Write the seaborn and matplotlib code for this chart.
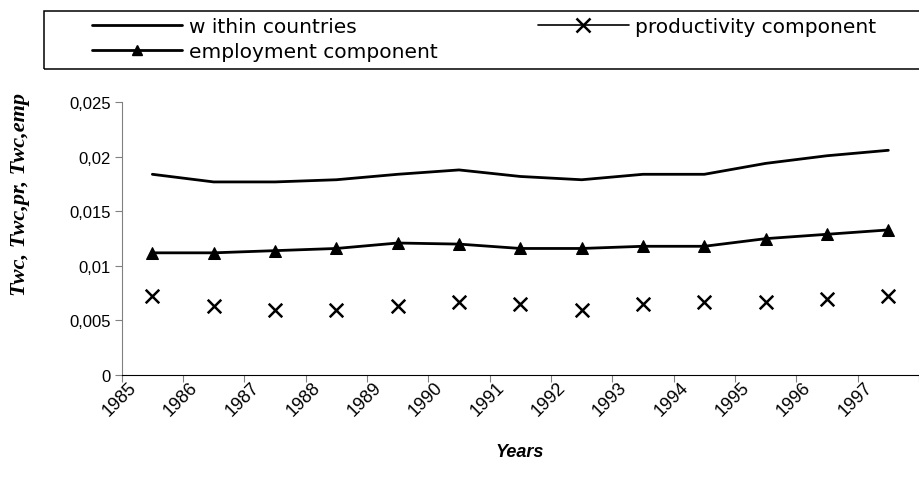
# chart of within-country component and its productivity / employment parts
import numpy as np
import pandas as pd
import matplotlib
matplotlib.use("Agg")
import matplotlib.pyplot as plt
import matplotlib.transforms as mtransforms
from matplotlib.lines import Line2D
from matplotlib.patches import Rectangle
import seaborn as sns

years = [1985, 1986, 1987, 1988, 1989, 1990, 1991, 1992, 1993, 1994, 1995, 1996, 1997]
within = [0.0184, 0.0177, 0.0177, 0.0179, 0.0184, 0.0188, 0.0182, 0.0179, 0.0184, 0.0184, 0.0194, 0.0201, 0.0206]
employment = [0.0112, 0.0112, 0.0114, 0.0116, 0.0121, 0.0120, 0.0116, 0.0116, 0.0118, 0.0118, 0.0125, 0.0129, 0.0133]
productivity = [0.0072, 0.0063, 0.0060, 0.0060, 0.0063, 0.0067, 0.0065, 0.0060, 0.0065, 0.0067, 0.0067, 0.0070, 0.0072]
y_ticks = [0, 0.005, 0.01, 0.015, 0.02, 0.025]
y_tick_labels = ["0", "0,005", "0,01", "0,015", "0,02", "0,025"]

sns.set_style("ticks")
plt.rcParams['font.family'] = ['Liberation Sans', 'DejaVu Sans']
plt.rcParams['text.color'] = 'black'
plt.rcParams['xtick.labelcolor'] = 'black'
plt.rcParams['ytick.labelcolor'] = 'black'

W, H = 920, 481
fig = plt.figure(figsize=(W / 100, H / 100), dpi=100)
ax = fig.add_axes([121.7 / W, 1 - 376 / H, (919 - 121.7) / W, (376 - 103.3) / H])

# category axis: points sit between the tick marks
df = pd.DataFrame({"pos": np.arange(len(years)) + 0.5,
                   "within": within, "employment": employment, "productivity": productivity})

sns.lineplot(data=df, x="pos", y="within", color="black", lw=2, ax=ax)
sns.lineplot(data=df, x="pos", y="employment", color="black", lw=2,
             marker="^", markersize=8, markeredgecolor="black", ax=ax)
sns.scatterplot(data=df, x="pos", y="productivity", marker="x", s=95,
                color="black", linewidth=1.8, ax=ax)

ax.set_xlim(0, len(years))
ax.set_ylim(0, 0.025)
ax.set_xlabel("")
ax.set_ylabel("")

for s in ["top", "right"]:
    ax.spines[s].set_visible(False)
ax.spines["left"].set_color("#808080")
ax.spines["bottom"].set_color("black")
ax.tick_params(axis="y", direction="out", length=5, color="#808080", pad=3)
ax.tick_params(axis="x", direction="out", length=5, color="#808080", pad=3)

ax.set_xticks(np.arange(len(years) + 1))
ax.set_xticklabels([str(y) for y in years] + [""], rotation=45, ha="right", va="top",
                   rotation_mode="anchor", fontsize=13, color="black")
ax.set_yticks(y_ticks)
ax.set_yticklabels(y_tick_labels, fontsize=12, color="black")

# shift the slanted year labels (after tick_params, which would reset them)
offset = mtransforms.ScaledTranslation(0.06, 0.08, fig.dpi_scale_trans)
for lab in ax.get_xticklabels():
    lab.set_transform(lab.get_transform() + offset)

fig.text(520 / W, 1 - 453 / H, "Years", ha="center", va="center", color="black",
         fontsize=13, fontweight="bold", fontstyle="italic")
fig.text(20 / W, 1 - 195 / H, "Twc, Twc,pr, Twc,emp", ha="center", va="center", rotation=90,
         color="black", fontsize=16, fontweight="bold", fontstyle="italic",
         family=["Liberation Serif", "DejaVu Serif"])

# legend box in the Excel style, running off the right edge
fig.patches.append(Rectangle((44 / W, 1 - 69.5 / H), 0.99, 58 / H, transform=fig.transFigure,
                             fill=False, ec="black", lw=1.1))
h1 = Line2D([], [], color="black", lw=2)
h2 = Line2D([], [], color="black", lw=2, marker="^", markersize=7)
h3 = Line2D([], [], color="black", lw=1.2, marker="x", markersize=10, markeredgewidth=1.8)
leg_kw = dict(loc="upper left", frameon=False, borderpad=0, borderaxespad=0,
              prop={"family": "DejaVu Sans", "size": 14.5}, labelcolor="black",
              handlelength=4.5, handletextpad=0.33, labelspacing=0.3)
fig.legend([h1, h2], ["w ithin countries", "employment component"],
           bbox_to_anchor=(91.7 / W, 1 - 18 / H), **leg_kw)
fig.legend([h3], ["productivity component"],
           bbox_to_anchor=(538 / W, 1 - 18 / H), **leg_kw)

fig.savefig("out.png", dpi=100)
